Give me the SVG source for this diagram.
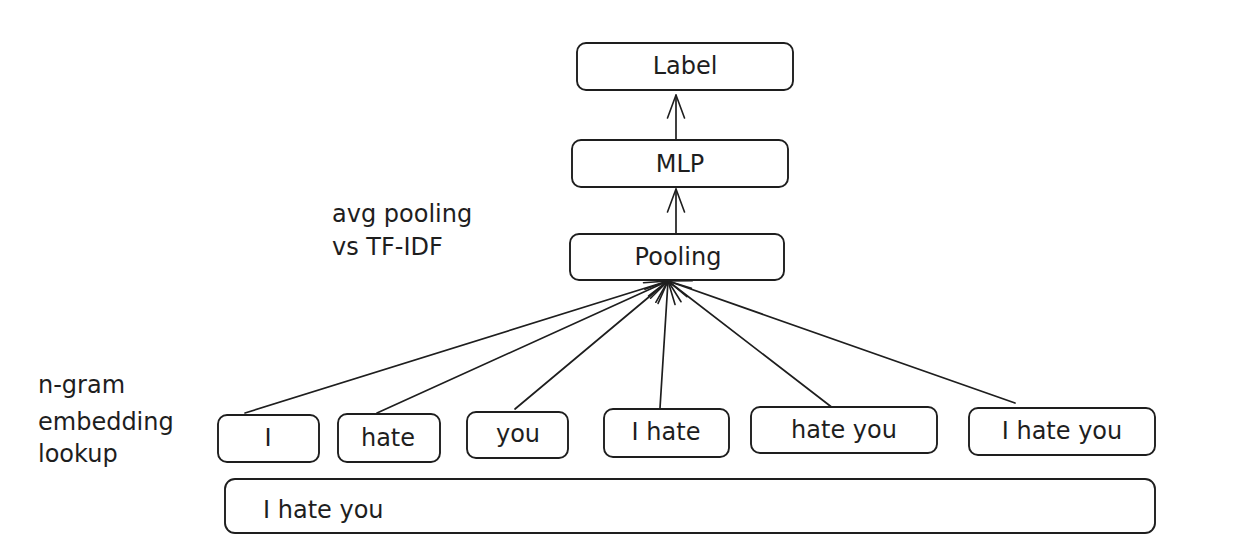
<svg xmlns="http://www.w3.org/2000/svg" width="1254" height="556" viewBox="0 0 1254 556">
<style>
.box{fill:#ffffff;stroke:#1e1e1e;stroke-width:1.9}
.t{font-family:"DejaVu Sans","Liberation Sans",sans-serif;font-size:24px;fill:#1e1e1e}
.c{text-anchor:middle}
.ln{stroke:#1e1e1e;stroke-width:1.7;fill:none;stroke-linecap:round}
</style>
<defs>
<marker id="ah" markerUnits="userSpaceOnUse" viewBox="-28 -12 30 24" refX="0" refY="0" markerWidth="30" markerHeight="24" orient="auto">
<path d="M-23,-8.5 L0,0 L-23,8.5" fill="none" stroke="#1e1e1e" stroke-width="1.6" stroke-linecap="round" stroke-linejoin="round"/>
</marker>
</defs>
<rect width="1254" height="556" fill="#ffffff"/>
<g id="connectors">
<line class="ln" x1="676" y1="234" x2="676" y2="189" marker-end="url(#ah)"/>
<line class="ln" x1="676" y1="140" x2="676" y2="95" marker-end="url(#ah)"/>
<line class="ln" x1="245" y1="413" x2="668" y2="281" marker-end="url(#ah)"/>
<line class="ln" x1="377" y1="413" x2="668" y2="281" marker-end="url(#ah)"/>
<line class="ln" x1="515" y1="409" x2="668" y2="281" marker-end="url(#ah)"/>
<line class="ln" x1="660" y1="408" x2="668" y2="281" marker-end="url(#ah)"/>
<line class="ln" x1="838" y1="412" x2="668" y2="281" marker-end="url(#ah)"/>
<line class="ln" x1="1015" y1="403" x2="668" y2="281" marker-end="url(#ah)"/>
</g>
<g id="label">
<rect class="box" x="577" y="43" width="216" height="47" rx="9"/>
<text class="t c" x="685" y="74">Label</text>
</g>
<g id="mlp">
<rect class="box" x="572" y="140" width="216" height="47" rx="9"/>
<text class="t c" x="680" y="172">MLP</text>
</g>
<g id="pooling">
<rect class="box" x="570" y="234" width="214" height="46" rx="9"/>
<text class="t c" x="678" y="265">Pooling</text>
</g>
<g id="note-pooling">
<text class="t" x="332" y="222">avg pooling</text>
<text class="t" x="332" y="255">vs TF-IDF</text>
</g>
<g id="note-ngram">
<text class="t" x="38" y="393">n-gram</text>
<text class="t" x="38" y="430">embedding</text>
<text class="t" x="38" y="462">lookup</text>
</g>
<g id="tok-i">
<rect class="box" x="218" y="415" width="101" height="47" rx="9"/>
<text class="t c" x="268" y="446">I</text>
</g>
<g id="tok-hate">
<rect class="box" x="338" y="414" width="102" height="48" rx="9"/>
<text class="t c" x="388" y="446">hate</text>
</g>
<g id="tok-you">
<rect class="box" x="467" y="412" width="101" height="46" rx="9"/>
<text class="t c" x="518" y="442">you</text>
</g>
<g id="bi-i-hate">
<rect class="box" x="604" y="409" width="125" height="48" rx="9"/>
<text class="t c" x="666" y="440">I hate</text>
</g>
<g id="bi-hate-you">
<rect class="box" x="751" y="407" width="186" height="46" rx="9"/>
<text class="t c" x="844" y="438">hate you</text>
</g>
<g id="tri-i-hate-you">
<rect class="box" x="969" y="408" width="186" height="47" rx="9"/>
<text class="t c" x="1062" y="439">I hate you</text>
</g>
<g id="sentence">
<rect class="box" x="225" y="479" width="930" height="54" rx="10"/>
<text class="t" x="263" y="518">I hate you</text>
</g>
</svg>
